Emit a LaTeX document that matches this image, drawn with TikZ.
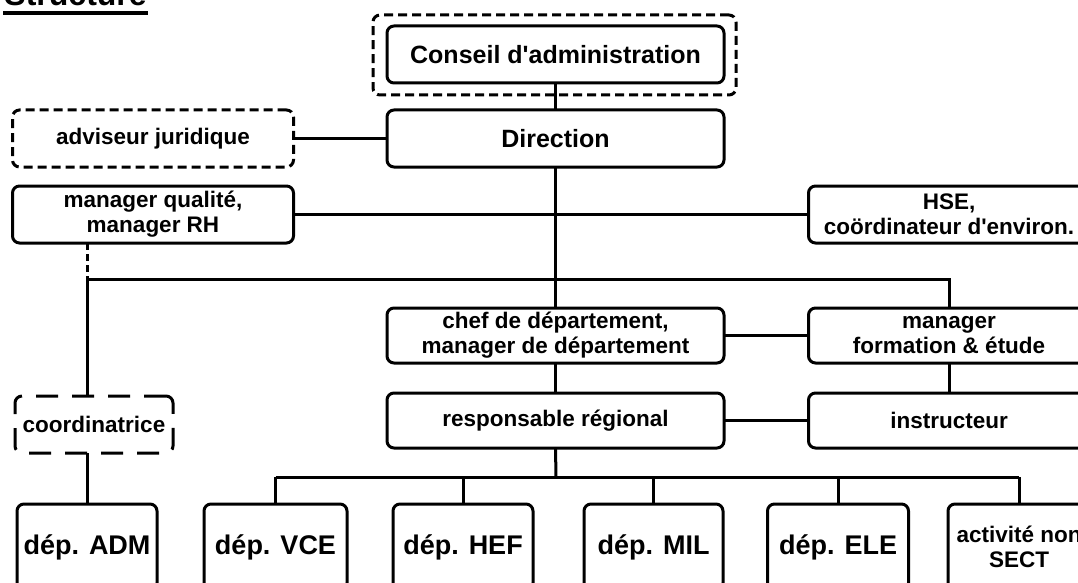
\documentclass[tikz,border=0pt]{standalone}
\usepackage{fontspec}
\setmainfont{Liberation Sans}
\usetikzlibrary{positioning}

\begin{document}
\begin{tikzpicture}[x=1pt, y=-1pt, line width=3pt,
    box/.style={draw, rounded corners=7pt, inner sep=0pt, outer sep=0pt, align=center,
        font=\bfseries\fontsize{22.5}{25}\selectfont},
    dashbox/.style={box, dash pattern=on 9pt off 5pt},
    wide/.style={minimum width=337pt, minimum height=57pt},
    side/.style={minimum width=281pt, minimum height=57pt},
    dep/.style={box, minimum width=140pt, minimum height=86pt,
        font=\bfseries\fontsize{27}{30}\selectfont}]
    \useasboundingbox (0,0) rectangle (1078,583);
    \clip (0,0) rectangle (1078,583);

    % Title
    \node[anchor=base west, inner sep=0pt, font=\bfseries\fontsize{32}{36}\selectfont] (title) at (3,6) {Structure};
    \draw[line width=3.5pt] ([yshift=-7pt]title.base west) -- ([yshift=-7pt]title.base east);

    % Top
    \node[dashbox, minimum width=363pt, minimum height=80pt] (board) at (554.5,55) {};
    \node[box, wide, font=\bfseries\fontsize{25}{28}\selectfont] (conseil) at (555.5,54.5) {Conseil d\textquotesingle administration};
    \node[box, wide, font=\bfseries\fontsize{25}{28}\selectfont] (direction) at (555.5,138.5) {Direction};
    \node[dashbox, side] (adviseur) at (153,138.5) {adviseur juridique};

    % Staff
    \node[box, side] (qualite) at (153,214.5) {manager qualité,\\manager RH};
    \node[box, side] (hse) at (949,214.5) {HSE,\\coördinateur d\textquotesingle environ.};

    % Middle
    \node[box, wide, minimum height=55pt] (chef) at (555.5,335.5) {chef de département,\\manager de département};
    \node[box, wide, minimum height=55pt] (regional) at (555.5,420.5) {responsable régional};
    \node[box, side, minimum height=55pt] (formation) at (949,335.5) {manager\\formation \& étude};
    \node[box, side, minimum height=55pt] (instructeur) at (949,420.5) {instructeur};
    \node[box, minimum width=158pt, minimum height=57pt, dash pattern=on 22pt off 14pt] (coord) at (94,424.5) {coordinatrice};

    % Departments
    \node[dep] (adm) at (87,547) {dép. ADM};
    \node[dep, minimum width=143pt] (vce) at (275.5,547) {dép. VCE};
    \node[dep] (hef) at (463,547) {dép. HEF};
    \node[dep, minimum width=139pt] (mil) at (653.5,547) {dép. MIL};
    \node[dep, minimum width=141pt] (ele) at (838,547) {dép. ELE};
    \node[dep, minimum width=142pt, font=\bfseries\fontsize{22.5}{25}\selectfont] (sect) at (1019,547) {activité non\\SECT};

    % Bus points
    \coordinate (busL) at (87,279);
    \coordinate (busR) at (949,279);
    \coordinate (busB) at (556,477);

    % Connections
    \draw (conseil.south) -- (direction.north);
    \draw (adviseur.east) -- (direction.west);
    \draw (direction.south) -- (chef.north);
    \draw (qualite.east) -- (hse.west);
    \draw[dash pattern=on 7pt off 4pt] (qualite.south -| busL) -- (busL);
    \draw (busL) -- (busR) -- (formation.north);
    \draw (busL) -- (busL |- coord.north);
    \draw (adm.north |- coord.south) -- (adm.north);
    \draw (chef.east) -- (formation.west);
    \draw (formation.south) -- (instructeur.north);
    \draw (chef.south) -- (regional.north);
    \draw (regional.east) -- (instructeur.west);
    \draw (regional.south) -- (busB);
    \draw (vce.north |- busB) -- (sect.north |- busB);
    \foreach \d in {vce, hef, mil, ele, sect}
        \draw (\d.north) -- (\d.north |- busB);
\end{tikzpicture}
\end{document}
